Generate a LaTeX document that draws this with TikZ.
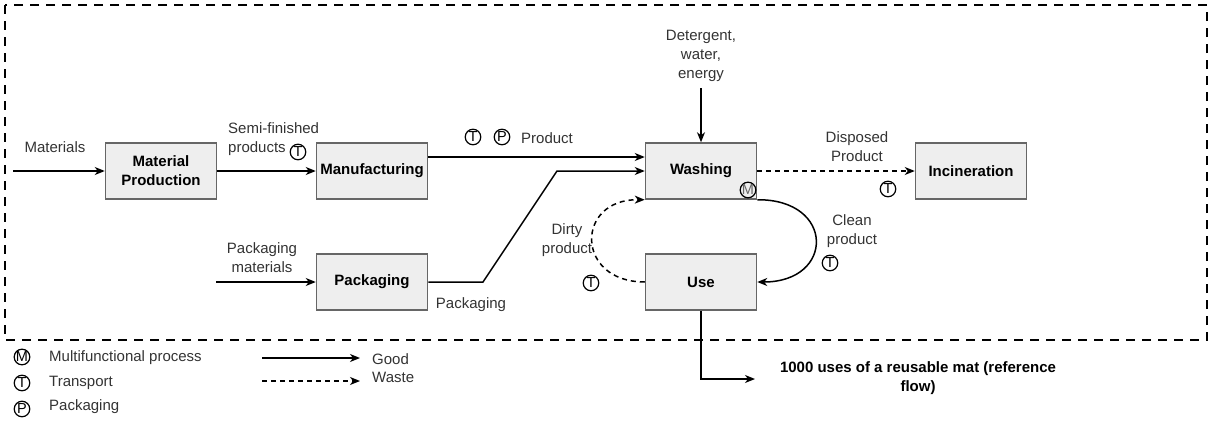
\documentclass[tikz,border=0pt]{standalone}
\usepackage{fontspec}
\setmainfont{Liberation Sans}
\usetikzlibrary{arrows.meta}
\definecolor{boxfill}{HTML}{EEEEEE}
\definecolor{boxline}{HTML}{666666}
\definecolor{labeltext}{HTML}{333333}

\begin{document}
\begin{tikzpicture}[x=1pt,y=-1pt,
    every node/.style={font=\fontsize{15}{19}\selectfont},
    proc/.style={draw=boxline,fill=boxfill,line width=1.5pt,minimum width=111pt,minimum height=56pt,inner sep=0pt,align=center,font=\fontsize{15}{19}\selectfont\bfseries},
    lbl/.style={text=labeltext,align=center,inner sep=0pt},
    tag/.style={circle,draw,line width=1.2pt,inner sep=0pt,minimum size=15.5pt,font=\fontsize{14.5}{14.5}\selectfont},
    flow/.style={line width=1.5pt,-{Stealth[length=10pt,width=8pt,inset=3pt]}},
    waste/.style={flow,dash pattern=on 5pt off 4pt}]
    \useasboundingbox (0,0) rectangle (1213,439);

    % system boundary
    \draw[line width=2.5pt,dash pattern=on 9pt off 7pt] (5,5) rectangle (1207,340);

    \node[proc] (MP) at (161,171) {Material\\Production};
    \node[proc] (MF) at (372,171) {Manufacturing};
    \node[proc] (PK) at (372,282) {Packaging};
    \node[proc] (WS) at (701,171) {Washing};
    \node[proc] (IN) at (971,171) {Incineration};
    \node[proc] (US) at (701,282) {Use};

    \coordinate (A1) at (13,171);
    \coordinate (A2) at (216,282);
    \coordinate (A3) at (701,88);
    \coordinate (B1) at (483,282);
    \coordinate (B2) at (557,171);
    \coordinate (R1) at (701,379);
    \coordinate (R2) at (755,379);

    \draw[flow] (A1) -- (MP);
    \draw[flow] (MP) -- (MF);
    \draw[flow] ([yshift=14pt]MF.east) -- ([yshift=14pt]WS.west);
    \draw[flow] (A2) -- (PK);
    \draw[flow] (PK) -- (B1) -- (B2) -- (WS);
    \draw[flow] (A3) -- (WS);
    \draw[waste] (WS) -- (IN);
    \draw[flow] (WS.south east) .. controls (835,199) and (835,282) .. (US.east); % clean
    \draw[waste] (US.west) .. controls (575,282) and (575,199) .. (WS.south west); % dirty
    \draw[flow] (US) -- (R1) -- (R2);

    \node[lbl] (L1) at (55,147) {Materials};
    \node[lbl,anchor=west,align=left] (L2) at (228,139) {Semi-finished\\products};
    \node[tag] (T1) at (298,152) {T};
    \node[lbl] (L3) at (262,258) {Packaging\\materials};
    \node[lbl] (L4) at (471,305) {Packaging};
    \node[tag] (T2) at (473,137) {T};
    \node[tag] (P1) at (502,137) {P};
    \node[lbl,anchor=west] (L5) at (521,138) {Product};
    \node[lbl] (L6) at (701,56) {Detergent,\\water,\\energy};
    \node[tag,text=boxline] (M1) at (748,190) {M};
    \node[lbl] (L7) at (857,147) {Disposed\\Product};
    \node[tag] (T3) at (888,189) {T};
    \node[lbl] (L8) at (852,231) {Clean\\product};
    \node[tag] (T4) at (830,263) {T};
    \node[lbl] (L9) at (567,240) {Dirty\\product};
    \node[tag] (T5) at (591,283) {T};
    \node[lbl,text=black,font=\fontsize{15}{19}\selectfont\bfseries] (L10) at (918,378) {1000 uses of a reusable mat (reference\\flow)};

    % legend
    \node[tag] (M2) at (22,357) {M};
    \node[lbl,anchor=west] (K1) at (49,358) {Multifunctional process};
    \node[tag] (T6) at (22,383) {T};
    \node[lbl,anchor=west] (K2) at (49,383) {Transport};
    \node[tag] (P2) at (22,409) {P};
    \node[lbl,anchor=west] (K3) at (49,407) {Packaging};
    \coordinate (G1) at (262,358);
    \coordinate (G2) at (360,358);
    \coordinate (W1) at (262,381);
    \coordinate (W2) at (360,381);
    \draw[flow] (G1) -- (G2);
    \draw[waste] (W1) -- (W2);
    \node[lbl,anchor=west] (K4) at (372,359) {Good};
    \node[lbl,anchor=west] (K5) at (372,377) {Waste};
\end{tikzpicture}
\end{document}
